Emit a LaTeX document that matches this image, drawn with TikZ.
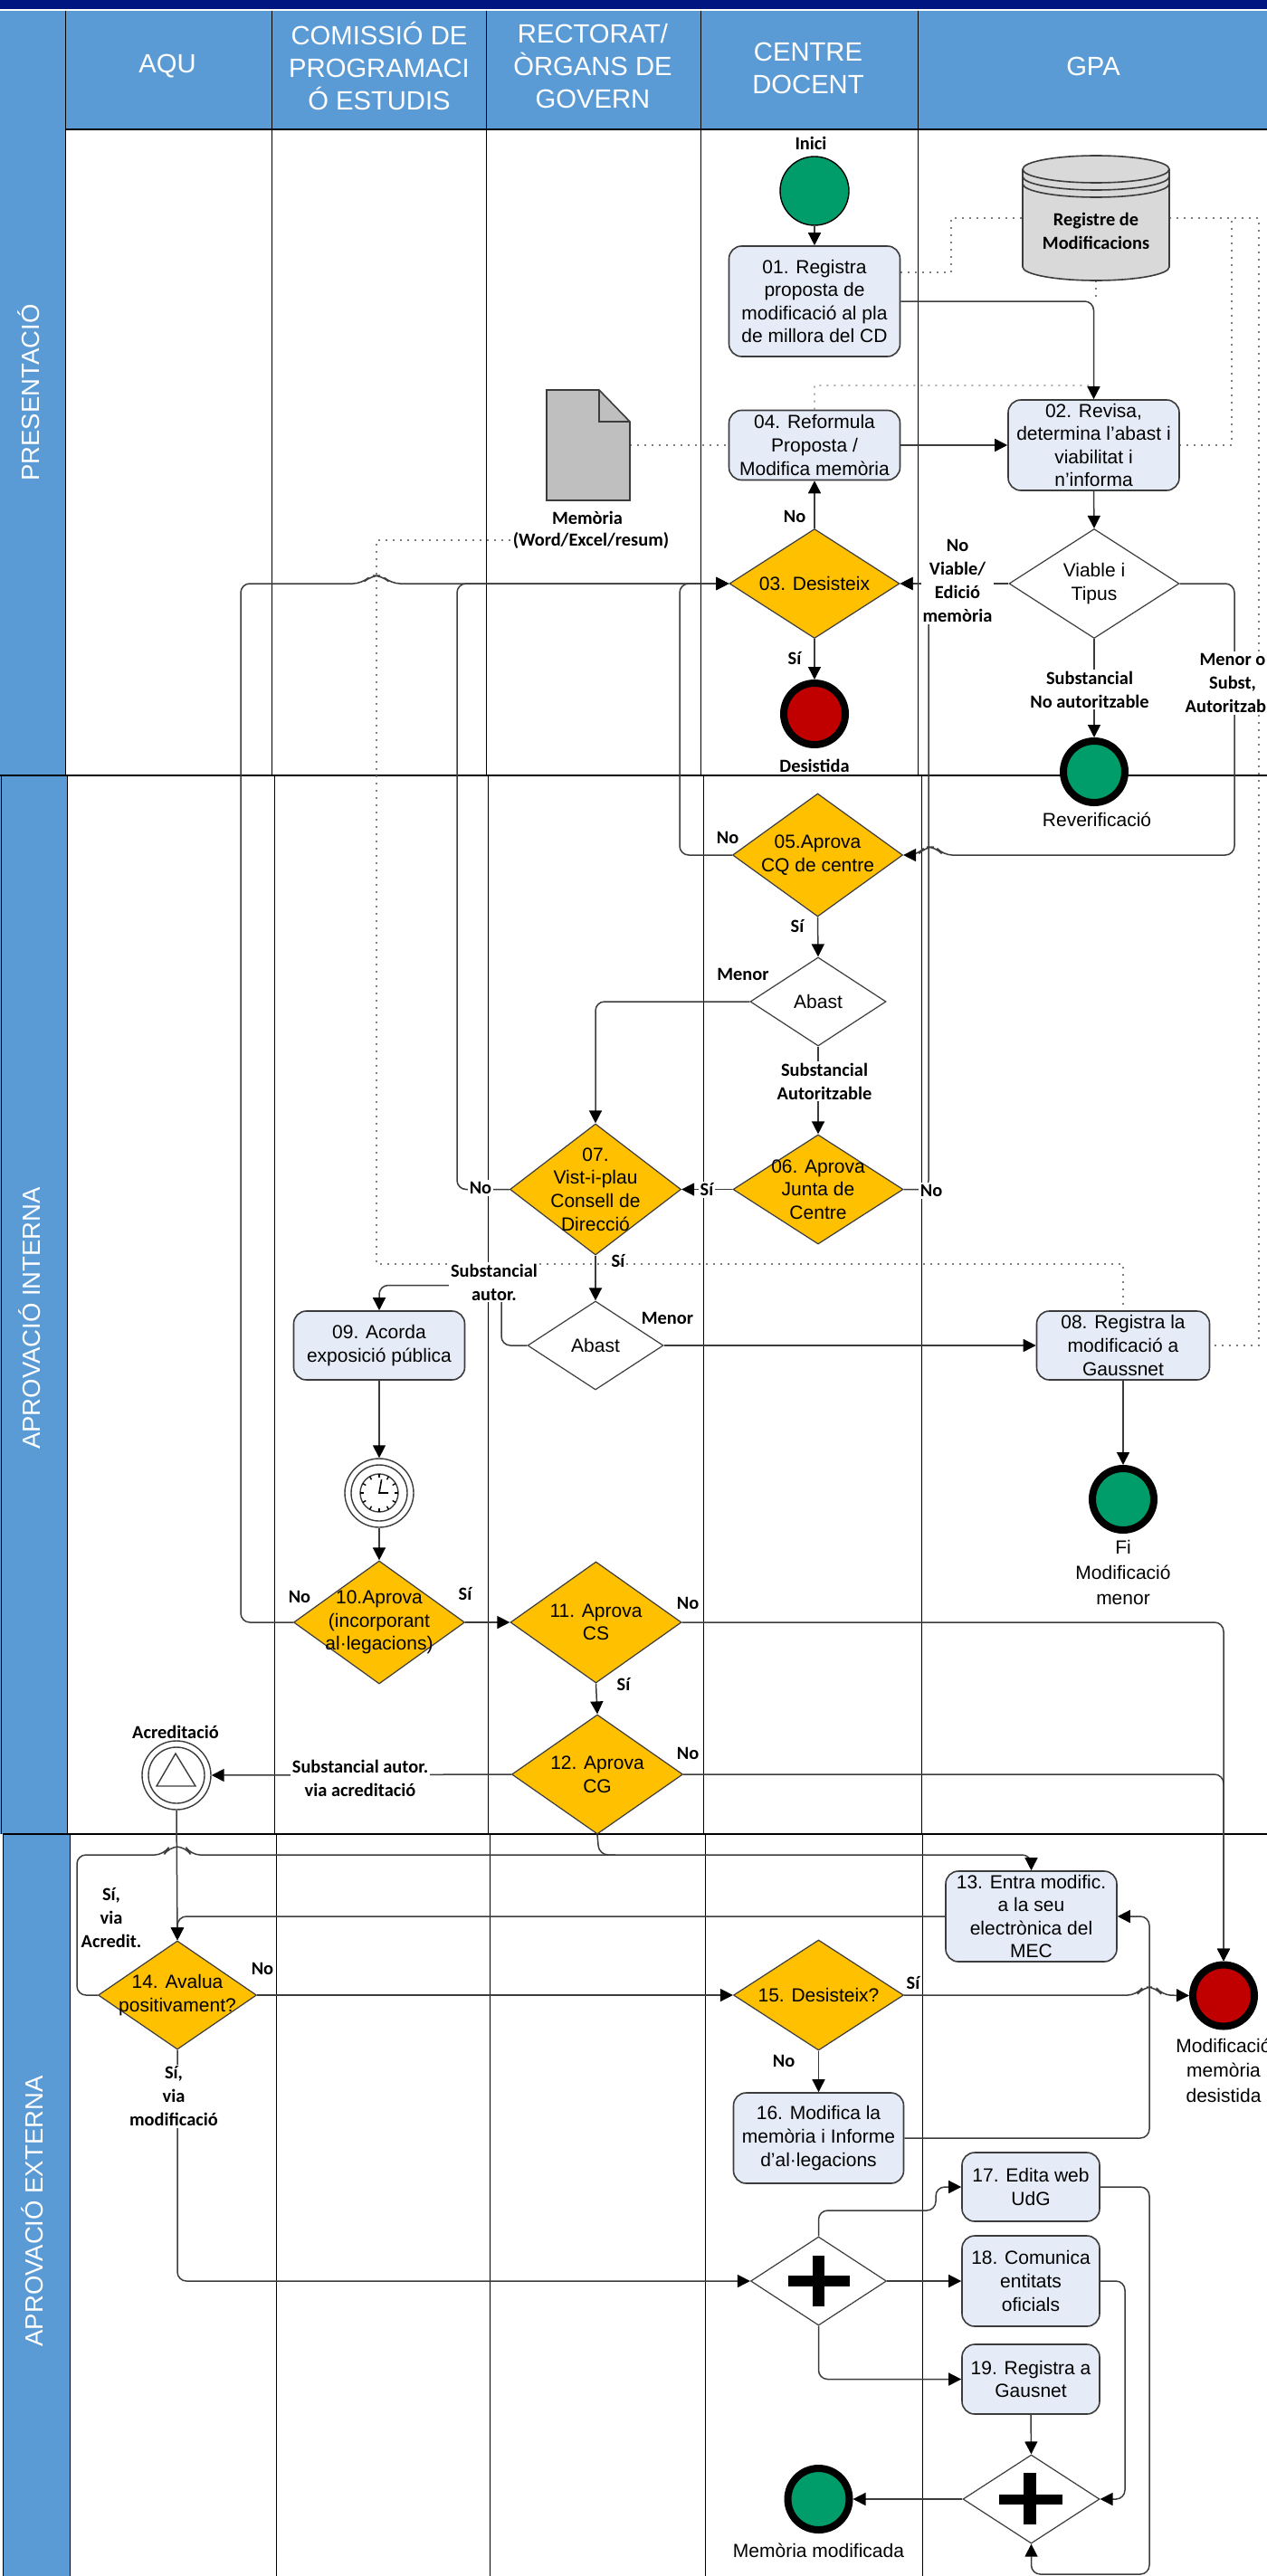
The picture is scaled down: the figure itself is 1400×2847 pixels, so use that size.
\documentclass[tikz,border=0pt]{standalone}
\usepackage{fontspec}
\setmainfont{Liberation Sans}
\newfontfamily\labfont{Carlito}
\usetikzlibrary{shapes.geometric,arrows.meta}
\pgfdeclarelayer{bg}\pgfdeclarelayer{conn}
\pgfsetlayers{bg,conn,main}
\definecolor{lanefill}{RGB}{91,155,213}
\definecolor{navy}{RGB}{0,21,127}
\definecolor{boxfill}{RGB}{230,236,247}
\definecolor{gold}{RGB}{255,192,0}
\definecolor{evgreen}{RGB}{0,157,107}
\definecolor{evred}{RGB}{192,0,0}
\definecolor{edge}{RGB}{60,60,60}
\tikzset{
  body/.style={font=\fontsize{10.5}{12.8}\selectfont,align=center,inner sep=0pt},
  lab/.style={font=\labfont\bfseries\fontsize{10.2}{13}\selectfont,align=center,inner sep=1pt},
  labw/.style={lab,fill=white},
  proc/.style={draw=edge,line width=.8pt,fill=boxfill,rounded corners=7pt,align=center,inner sep=0pt,font=\fontsize{10.5}{12.8}\selectfont},
  dgold/.style={diamond,draw=edge,line width=.6pt,fill=gold,inner sep=0pt},
  dwhite/.style={diamond,draw=edge,line width=.6pt,fill=white,inner sep=0pt},
  startev/.style={circle,draw=black,line width=.7pt,fill=evgreen,minimum size=38pt,inner sep=0pt},
  endev/.style={circle,draw=black,line width=4pt,minimum size=34pt,inner sep=0pt},
  ringev/.style={circle,draw=edge,line width=.7pt,fill=white,minimum size=38pt,inner sep=0pt},
  flow/.style={draw=edge,line width=.75pt,rounded corners=5pt,-{Triangle[length=7pt,width=7pt,color=black]}},
  plainflow/.style={draw=edge,line width=.75pt,rounded corners=5pt},
  assoc/.style={draw=gray,line width=.6pt,dash pattern=on 1pt off 3pt},
  head/.style={text=white,font=\fontsize{14.6}{18}\selectfont,align=center,inner sep=0pt},
  lanetitle/.style={text=white,rotate=90,font=\fontsize{13.75}{16}\selectfont,inner sep=0pt},
  laneline/.style={draw=black,line width=.45pt},
  divider/.style={draw=black,line width=.9pt},
  plusbar/.style={fill=black,draw=none}
}
\newcommand{\procbox}[6]{\node[proc,minimum width=#4pt,minimum height=#5pt] (#1) at (#2,#3) {#6};}
\newcommand{\gate}[7]{\node[#6,minimum width=#4pt,minimum height=#5pt] (#1) at (#2,#3) {};
  \node[body] (#1t) at (#1.center) {#7};}
\begin{document}
\begin{tikzpicture}[x=.5pt,y=-.5pt]
\useasboundingbox (0,0) rectangle (1400,2847);
\clip (0,0) rectangle (1400,2847);
\begin{pgfonlayer}{bg}
  \fill[white] (0,0) rectangle (1400,2847);
  \fill[navy] (0,0) rectangle (1400,10);
  \fill[lanefill] (0,12) rectangle (1400,143);
  \fill[lanefill] (0,12) rectangle (72,857);
  \fill[lanefill] (0,857) rectangle (74,2027);
  \fill[lanefill] (3,2027) rectangle (77,2847);
  \foreach \xa/\xb/\xc in {72/74/77,300/303/305,537/539/541,774/777/779,1014/1018/1019}{
    \draw[laneline] (\xa,12) -- (\xa,857);
    \draw[laneline] (\xb,857) -- (\xb,2027);
    \draw[laneline] (\xc,2027) -- (\xc,2847);
  }
  \draw[divider] (72,143) -- (1400,143);
  \draw[divider] (0,857) -- (1400,857);
  \draw[divider] (3,2027) -- (1400,2027);
  \draw[laneline] (1,857) -- (1,2027);
  \draw[laneline] (3,2027) -- (3,2847);
\end{pgfonlayer}

% headers
\node[head] (hA) at (185,73) {AQU};
\node[head] (hB) at (419,73) {COMISSIÓ DE\\PROGRAMACI\\Ó ESTUDIS};
\node[head] (hC) at (655,73) {RECTORAT/\\ÒRGANS DE\\GOVERN};
\node[head] (hD) at (893,75) {CENTRE\\DOCENT};
\node[head] (hE) at (1208,73) {GPA};
\node[lanetitle] (l1) at (32,434) {PRESENTACIÓ};
\node[lanetitle] (l2) at (33,1457) {APROVACIÓ INTERNA};
\node[lanetitle] (l3) at (36,2444) {APROVACIÓ EXTERNA};

% database
\node[minimum width=81pt,minimum height=69pt,inner sep=0pt] (db) at (1211,241) {};
\draw[draw=edge,line width=.8pt,fill=black!15] (1130,187) -- (1130,295) arc[start angle=180,end angle=360,x radius=40.5pt,y radius=7.5pt] -- (1292,187) arc[start angle=0,end angle=180,x radius=40.5pt,y radius=7.5pt] -- cycle;
\foreach \yy in {187,195,203}
  \draw[draw=edge,line width=.8pt] (1130,\yy) arc[start angle=180,end angle=360,x radius=40.5pt,y radius=7.5pt];
\node[lab] (dbt) at (1211,255.5) {Registre de\\Modificacions};

% document
\node[minimum width=46pt,minimum height=61pt,inner sep=0pt] (doc) at (650,492) {};
\draw[draw=edge,line width=.8pt,fill=black!25] (604,431) -- (662,431) -- (696,466) -- (696,553) -- (604,553) -- cycle;
\draw[draw=edge,line width=.8pt] (662,431) -- (662,466) -- (696,466);
\node[lab] (docm) at (649,572) {Memòria};
\node[labw] (doct) at (653,597) {(Word/Excel/resum)};

% events
\node[lab] (inici) at (896,158) {Inici};
\node[startev] (start) at (900,211) {};
\node[endev,fill=evred] (desist) at (900,789) {};
\node[lab] (desistt) at (900,846) {Desistida};
\node[endev,fill=evgreen] (rever) at (1209,853) {};
\node[body] (revert) at (1212,906) {Reverificació};
\node[endev,fill=evgreen] (fimen) at (1241,1657) {};
\node[body] (fimtxt) at (1241,1738) {Fi\\[1pt]Modificació\\[1pt]menor};
\node[endev,fill=evred] (endmod) at (1352,2205.5) {};
\node[body] (endmodt) at (1352,2288) {Modificació\\[1pt]memòria\\[1pt]desistida};
\node[endev,fill=evgreen] (endok) at (904.5,2762) {};
\node[body] (endokt) at (904.5,2819) {Memòria modificada};

% timer
\node[ringev] (timer) at (419,1650) {};
\draw[draw=edge,line width=.7pt] (timer.center) circle[radius=15.5pt];
\draw[draw=edge,line width=.7pt] (timer.center) circle[radius=10.5pt];
\foreach \a in {0,30,...,330}
  \draw[draw=black,line width=.7pt,shift={(timer.center)}] (\a:8.5pt) -- (\a:10.5pt);
\draw[draw=black,line width=.8pt,shift={(timer.center)}] (80:7.5pt) -- (0,0) -- (0:5pt);

% acreditacio
\node[lab] (acrt) at (194,1914) {Acreditació};
\node[ringev] (acr) at (195,1962) {};
\draw[draw=edge,line width=.7pt] (acr.center) circle[radius=15.5pt];
\draw[draw=edge,line width=.7pt,fill=white] (194,1938) -- (216,1974) -- (173,1974) -- cycle;

% process boxes
\procbox{n01}{900}{333}{94.5}{61}{01. Registra\\proposta de\\modificació al pla\\de millora del CD}
\procbox{n04}{900}{492}{94.5}{38.5}{04. Reformula\\Proposta /\\Modifica memòria}
\procbox{n02}{1208.5}{492}{94.5}{50}{02. Revisa,\\determina l'abast i\\viabilitat i\\n'informa}
\procbox{n09}{419}{1487}{94.5}{38}{09. Acorda\\exposició pública}
\procbox{n08}{1241}{1487}{95.5}{38}{08. Registra la\\modificació a\\Gaussnet}
\procbox{n13}{1139.5}{2118}{94.5}{50}{13. Entra modific.\\a la seu\\electrònica del\\MEC}
\procbox{n16}{904.5}{2363}{94}{50}{16. Modifica la\\memòria i Informe\\d'al·legacions}
\procbox{n17}{1139}{2417}{76}{38}{17. Edita web\\UdG}
\procbox{n18}{1139}{2521}{76}{50}{18. Comunica\\entitats\\oficials}
\procbox{n19}{1139}{2629.5}{76}{38.5}{19. Registra a\\Gausnet}

% gateways
\gate{n03}{900}{645}{94}{60.5}{dgold}{03. Desisteix}
\gate{via}{1209}{645}{94}{60.5}{dwhite}{Viable i\\Tipus}
\gate{n05}{903.5}{945}{94}{68}{dgold}{05.Aprova\\CQ de centre}
\gate{ab1}{904}{1107}{75}{49}{dwhite}{Abast}
\gate{n06}{904}{1314.5}{94}{60.5}{dgold}{06. Aprova\\Junta de\\Centre}
\gate{n07}{658}{1314.5}{94.5}{72.5}{dgold}{07.\\Vist-i-plau\\Consell de\\Direcció}
\gate{ab2}{658}{1487}{75}{49}{dwhite}{Abast}
\gate{n10}{419}{1793}{94.5}{68}{dgold}{10.Aprova\\(incorporant\\al·legacions)}
\gate{n11}{658.5}{1793}{94.5}{67}{dgold}{11. Aprova\\CS}
\gate{n12}{660}{1961}{94.5}{66}{dgold}{12. Aprova\\CG}
\gate{n14}{196}{2205}{87.5}{60}{dgold}{14. Avalua\\positivament?}
\gate{n15}{904.5}{2205}{94}{61}{dgold}{15. Desisteix?}
\gate{g1}{904.5}{2521}{75}{49}{dwhite}{}
\gate{g2}{1139.5}{2762}{75.5}{49}{dwhite}{}
\fill[plusbar] (870.5,2515) rectangle (939,2527);
\fill[plusbar] (897.5,2493) rectangle (911,2549);
\fill[plusbar] (1103.5,2757) rectangle (1174,2768);
\fill[plusbar] (1131,2733) rectangle (1145,2790);

% labels
\node[lab] (t1) at (878,571) {No};
\node[lab] (t2) at (878,728) {Sí};
\node[labw] (t3) at (1058,642) {No\\Viable/\\Edició\\memòria};
\node[labw] (t4) at (1204,762) {Substancial\\No autoritzable};
\node[labw] (t5) at (1362,755) {Menor o\\Subst,\\Autoritzable};
\node[lab] (t6) at (804,926) {No};
\node[lab] (t7) at (881,1024) {Sí};
\node[lab] (t8) at (821,1077) {Menor};
\node[labw] (t9) at (911,1195) {Substancial\\Autoritzable};
\node[labw] (t10) at (781,1315) {Sí};
\node[labw] (t11) at (1029,1316) {No};
\node[labw] (t12) at (531,1313) {No};
\node[lab] (t13) at (683,1394) {Sí};
\node[labw] (t14) at (546,1417) {Substancial\\autor.};
\node[labw] (t15) at (737.5,1457) {Menor};
\node[lab] (t16) at (331,1765) {No};
\node[lab] (t17) at (514,1762) {Sí};
\node[lab] (t18) at (760,1772) {No};
\node[lab] (t19) at (689,1862) {Sí};
\node[lab] (t20) at (760,1938) {No};
\node[labw] (t21) at (398,1965) {Substancial autor.\\via acreditació};
\node[lab] (t22) at (123,2120) {Sí,\\via\\Acredit.};
\node[lab] (t23) at (290,2176) {No};
\node[lab] (t24) at (1009,2191) {Sí};
\node[lab] (t25) at (866,2277.5) {No};
\node[labw] (t26) at (192,2317) {Sí,\\via\\modificació};

\begin{pgfonlayer}{conn}
  % association lines
  \draw[assoc] (n01.east |- 0,301) -- (1051,301) -- (1051,241) -- (db.west);
  \draw[assoc] (db.south) -- (1211,333);
  \draw[assoc] (db.east) -- (1361,241) -- (1361,492) -- (n02.east);
  \draw[assoc] (db.east) -- (1391,241) -- (1391,1487) -- (n08.east);
  \draw[assoc] (n04.north) -- (900,426) -- (1209,426) -- (n02.north);
  \draw[assoc,line width=.9pt] (doc.east) -- (n04.west);
  \draw[assoc] (doct.west) -- (416,597) -- (416,1397) -- (1241,1397) -- (n08.north);
  % lane 1
  \draw[flow] (start.south) -- (n01.north);
  \draw[flow] (n01.east) -| (n02.north);
  \draw[flow] (n04.east) -- (n02.west);
  \draw[flow] (n02.south) -- (via.north);
  \draw[flow] (n03.north) -- (n04.south);
  \draw[flow] (n03.south) -- (desist.north);
  \draw[flow] (via.west) -- (n03.east);
  \draw[flow] (via.south) -- (rever.north);
  \draw[flow] (via.east) -- (1364,645) -- (1364,945) -- (1042,945) -- (1034,936) -- (1022,936) -- (1014,945) -- (n05.east);
  % back to 03
  \draw[flow] (n10.west) -- (266,1793) -- (266,645) -- (400,645) -- (410,636) -- (422,636) -- (432,645) -- (n03.west);
  \draw[flow] (n07.west) -- (505,1314.5) -- (505,645) -- (n03.west);
  \draw[flow] (n05.west) -- (751,945) -- (751,645) -- (n03.west);
  \draw[flow] (n06.east) -- (1026,1314.5) -- (1026,645) -- (n03.east);
  % internal
  \draw[flow] (n05.south) -- (ab1.north);
  \draw[flow] (ab1.south) -- (n06.north);
  \draw[flow] (ab1.west) -| (n07.north);
  \draw[flow] (n06.west) -- (n07.east);
  \draw[flow] (n07.south) -- (ab2.north);
  \draw[flow] (ab2.east) -- (n08.west);
  \draw[flow] (ab2.west) -- (554,1487) -- (554,1420.5) -- (419,1420.5) -- (n09.north);
  \draw[flow] (n08.south) -- (fimen.north);
  \draw[flow] (n09.south) -- (timer.north);
  \draw[flow] (timer.south) -- (n10.north);
  \draw[flow] (n10.east) -- (n11.west);
  \draw[flow] (n11.south) -- (n12.north);
  \draw[flow] (n11.east) -| (endmod.north);
  \draw[flow] (n12.east) -| (endmod.north);
  \draw[flow] (n12.west) -- (acr.east);
  \draw[flow] (acr.south) -- (n14.north);
  % external
  \draw[plainflow] (n12.south) -- (662,2050) -- (680,2050);
  \draw[flow] (n14.west) -- (85,2205) -- (85,2050) -- (181,2050) -- (187,2041) -- (205,2041) -- (211,2050) -- (1139.5,2050) -- (n13.north);
  \draw[flow] (n13.west) -| (n14.north);
  \draw[flow] (n14.east) -- (n15.west);
  \draw[flow] (n15.south) -- (n16.north);
  \draw[flow] (n15.east) -- (1256,2205) -- (1263,2196) -- (1277,2196) -- (1284,2205) -- (endmod.west);
  \draw[flow] (n16.east) -- (1270,2363) -- (1270,2118) -- (n13.east);
  \draw[flow] (n14.south) |- (g1.west);
  \draw[flow] (g1.north) -- (904.5,2443) -- (1034,2443) -- (1034,2417) -- (n17.west);
  \draw[flow] (g1.east) -- (n18.west);
  \draw[flow] (g1.south) |- (n19.west);
  \draw[flow] (n19.south) -- (g2.north);
  \draw[flow] (n18.east) -- (1243,2521) -- (1243,2762) -- (g2.east);
  \draw[flow] (n17.east) -- (1270,2417) -- (1270,2845) -- (1139.5,2845) -- (g2.south);
  \draw[flow] (g2.west) -- (endok.east);
\end{pgfonlayer}
\end{tikzpicture}
\end{document}
